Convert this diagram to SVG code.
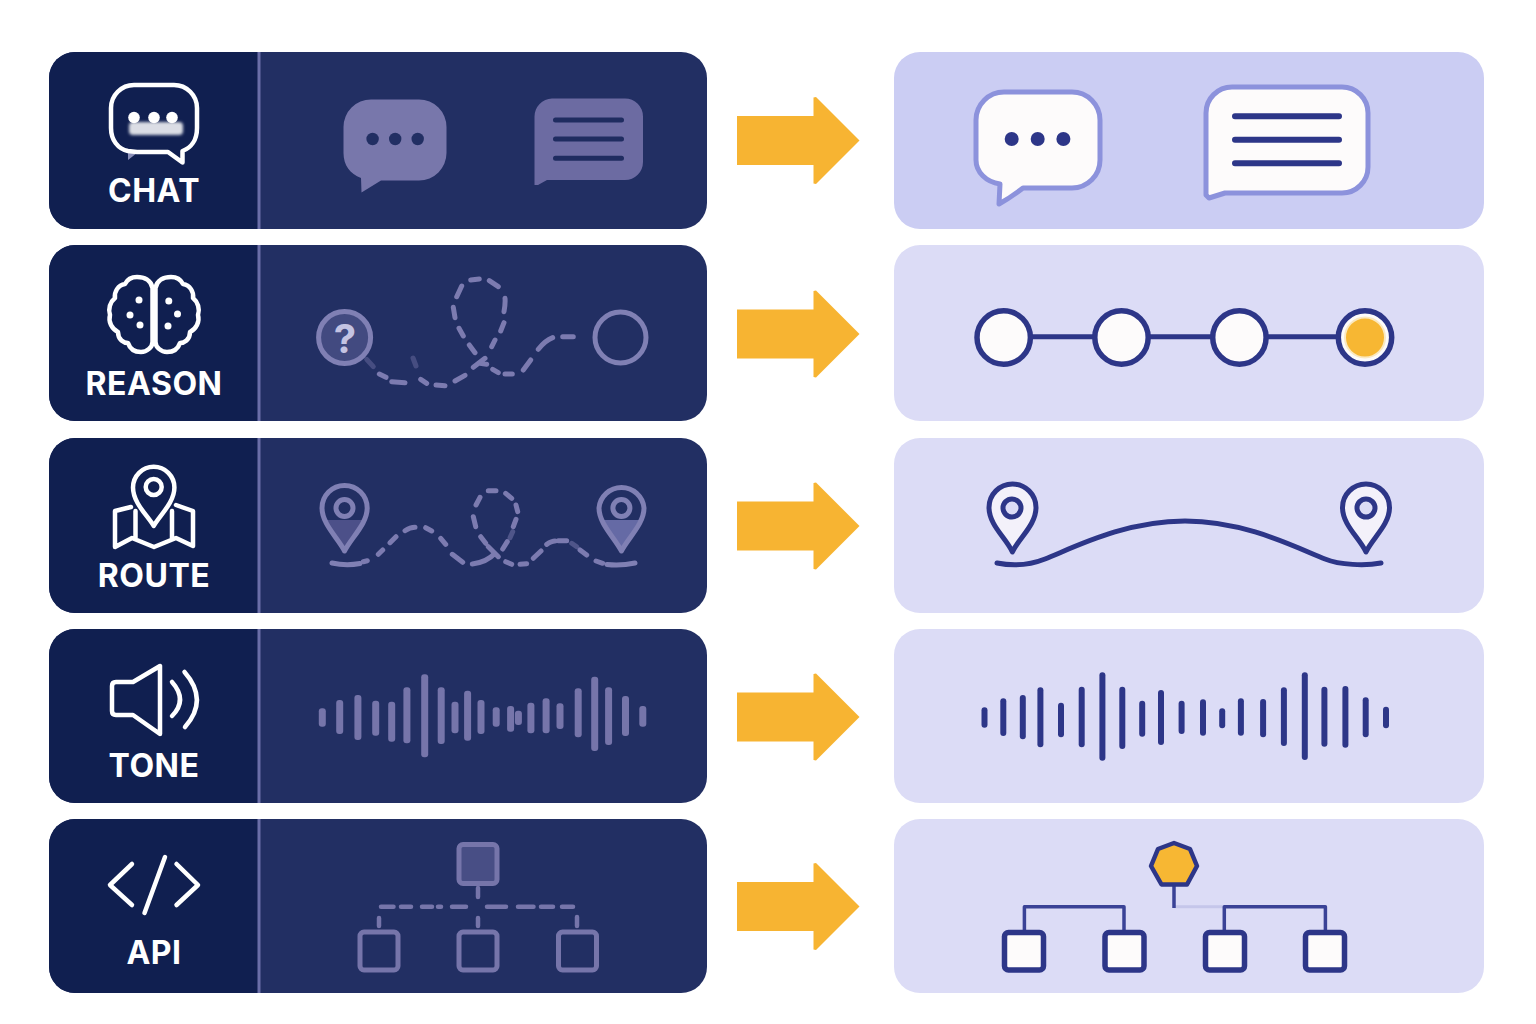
<svg xmlns="http://www.w3.org/2000/svg" width="1536" height="1024" viewBox="0 0 1536 1024">
<style>
.card{fill:#222f63}
.head{fill:#101f50}
.div{fill:#6a6ea8}
.pl1{fill:#cbcdf3}
.pl2{fill:#dcdcf6}
.label{font-family:"Inter","Liberation Sans",sans-serif;font-weight:700;font-size:32px;letter-spacing:.5px;fill:#fff;text-anchor:middle}
.wi{fill:none;stroke:#fff;stroke-width:4.5;stroke-linecap:round;stroke-linejoin:round}
.wd{fill:#fff}
.m{fill:none;stroke:#8080b4;stroke-width:5;stroke-linecap:round;stroke-linejoin:round}
.md{fill:none;stroke:#7c7bb0;stroke-width:5;stroke-linecap:round}
.mb rect{fill:#7675aa}
.n{fill:none;stroke:#2d3688;stroke-width:5;stroke-linecap:round;stroke-linejoin:round}
.nw{fill:#fdfbfb;stroke:#2d3688;stroke-width:5.5;stroke-linejoin:round}
.nb rect{fill:#2d3688}
.arrow{fill:#f7b432}
</style>
<defs>
<path id="arr" d="M737 -24.500H813.500V-43L816 -43.500L859.500 0L816 43.500L813.500 43V24.500H737Z"/>
</defs>
<rect width="1536" height="1024" fill="#fff"/>

<g id="connectors">
<use href="#arr" class="arrow" y="140.500"/>
<use href="#arr" class="arrow" y="334"/>
<use href="#arr" class="arrow" y="526"/>
<use href="#arr" class="arrow" y="717"/>
<use href="#arr" class="arrow" y="906.500"/>
</g>

<g id="chat-source">
<rect class="card" x="49" y="52" width="658" height="177" rx="26"/>
<path class="head" d="M258 52H75A26 26 0 0 0 49 78V203A26 26 0 0 0 75 229H258Z"/>
<rect class="div" x="257.500" y="52" width="3" height="177"/>
<path d="M128 150L137 153L128 160Z" fill="#8b8fb8"/>
<path class="wi" d="M134 85H174A23 23 0 0 1 197 108V128C197 140 191 148 182.500 151V162.500L168 152H137L128 151C118 149 111 140 111 128V108A23 23 0 0 1 134 85Z"/>
<rect x="129" y="122" width="54" height="13" rx="4" fill="#fff" opacity=".85" style="filter:blur(1.500px)"/>
<circle class="wd" cx="134" cy="117.500" r="5.800"/><circle class="wd" cx="154" cy="117.500" r="5.800"/><circle class="wd" cx="172" cy="117.500" r="5.800"/>
<text class="label" x="154" y="202">CHAT</text>
<path fill="#7877ab" d="M371 99.500H419A27.500 27.500 0 0 1 446.500 127V153A27.500 27.500 0 0 1 419 180.500H381L361.500 192.500L361 178C350 174 343.500 165 343.500 153V127A27.500 27.500 0 0 1 371 99.500Z"/>
<g fill="#222f63"><circle cx="372.600" cy="139" r="6.200"/><circle cx="395.200" cy="139" r="6.200"/><circle cx="417.700" cy="139" r="6.200"/></g>
<path fill="#6c6ba2" d="M552 98.500H625A18 18 0 0 1 643 116.500V162A18 18 0 0 1 625 180H547L538 185H534.500V116.500A18 18 0 0 1 552 98.500Z"/>
<path d="M555.500 120H621.500M555.500 139H621.500M555.500 158.300H621.500" fill="none" stroke="#1f2c60" stroke-width="5" stroke-linecap="round"/>
</g>

<g id="reason-source">
<rect class="card" x="49" y="245" width="658" height="176" rx="26"/>
<path class="head" d="M258 245H75A26 26 0 0 0 49 271V395A26 26 0 0 0 75 421H258Z"/>
<rect class="div" x="257.500" y="245" width="3" height="176"/>
<path class="wi" d="M152.500 288C151 280 144 277 137 277C131 277 127 280 125 284C118 285 114 292 115 298C110 302 108 309 110 315C108 322 112 329 118 332C118 340 124 343 128 343C130 349 135 352 141 352C147 352 152.500 347 152.500 342Z"/>
<path class="wi" d="M155.500 288C157 280 164 277 171 277C177 277 181 280 183 284C190 285 194 292 193 298C198 302 200 309 198 315C200 322 196 329 190 332C190 340 184 343 180 343C178 349 173 352 167 352C161 352 155.500 347 155.500 342Z"/>
<g class="wd"><circle cx="139" cy="300" r="3.500"/><circle cx="130" cy="315" r="3.500"/><circle cx="140" cy="325" r="3.500"/><circle cx="168.800" cy="301" r="3.500"/><circle cx="177.500" cy="314" r="3.500"/><circle cx="168" cy="326" r="3.500"/></g>
<text class="label" x="154" y="395">REASON</text>
<circle cx="344.600" cy="337.500" r="26" fill="#424a80" stroke="#8080b4" stroke-width="5"/>
<text x="345" y="353" font-family="Inter,'Liberation Sans',sans-serif" font-size="40" font-weight="700" fill="#c4c3e2" text-anchor="middle">?</text>
<path class="md" d="M379.300 374L386 377.300M391.700 381.700L405 382.700M420.700 379.300L426.700 383.300M436 385L445 385.700M455 381L465 375.300M473.300 367.300L485 358.300M480 363.300L486.700 364.300M492.700 369.300L498.300 372.700M505 374L512.300 374M523.300 370L530.700 360M538.300 349.300Q545 340.700 552.700 337.700M562.700 336.700L573.300 336.700M500.700 331L504 322.700M504 311.700Q505.500 303 505 298.300M498.300 286.700L489.300 280.700M479.300 279L470.700 280M461.700 286L456.700 296.700M453.300 307.300L455 317.700M459 328.300L463.300 336M469.300 345L475 352.700M491.700 346.700L495 340"/>
<path class="md" opacity=".4" d="M366.700 359.300L373.300 366.700M413 358L416 366"/>
<circle class="m" cx="620.500" cy="337.500" r="25.500"/>
</g>

<g id="route-source">
<rect class="card" x="49" y="438" width="658" height="175" rx="26"/>
<path class="head" d="M258 438H75A26 26 0 0 0 49 464V587A26 26 0 0 0 75 613H258Z"/>
<rect class="div" x="257.500" y="438" width="3" height="175"/>
<path class="wi" d="M131 507L115 511V547L132 538L154 547L176 538L193 546V511L176 505M135.500 511V538M172 511V538"/>
<path class="wi" d="M153.700 526C148 516 133 503 133 487.500A20.700 20.700 0 0 1 174.400 487.500C174.400 503 159 516 153.700 526Z" style="fill:#101f50"/>
<circle class="wi" cx="153.700" cy="487" r="8"/>
<text class="label" x="154" y="587">ROUTE</text>
<path fill="#4c5089" d="M326.500 520H362.500L344.600 551Z"/>
<path class="m" d="M344.600 551C338 538 322 524 322 508A22.600 22.600 0 0 1 367.200 508C367.200 524 351 538 344.600 551Z"/>
<circle class="m" cx="344.500" cy="508" r="8.500"/>
<path fill="#656aa5" d="M603.500 520H639.500L621.400 551Z"/>
<path class="m" d="M621.400 551C615 538 599 524 599 508A22.600 22.600 0 0 1 644 508C644 524 628 538 621.400 551Z"/>
<circle class="m" cx="621.400" cy="508" r="8.500"/>
<path class="m" d="M332 563Q346 566 360 563.500M607 564.500Q621 566 635 563"/>
<path class="md" d="M363.300 561.700L367.300 560.700M378.300 554.300L382.700 550M390 542.700L396 536.700M405 530.700Q410 527.300 415 527.300M425.700 527.700L431.700 531M440.700 538.300L445.700 544.300M452.300 554.300L462.700 562.300M472.300 564Q486.700 562.300 495 553.300M488.300 546.700L498.300 556.700M480.700 536.700L485.700 543.300M473.300 516.700L475.700 526.700M476 505L480 497.300M488.300 490.700L496 490.700M505.700 493.300L511.700 498.300M516 505L517.700 511.700M516 519.300L513.300 526.700M507.300 541.700L502.700 549M505.700 561.700L511.700 564.300M520 564.300L526.700 563.700M533.300 558.300L541 551M546.700 544.300Q551.700 541 555 541M558.300 540.700L566.700 540.700M580 550L586.700 555M596 561L602.700 563.300"/>
<path class="md" opacity=".5" d="M512.700 531.700L510 537.700M571.700 543.300L576.700 546.700"/>
</g>

<g id="tone-source">
<rect class="card" x="49" y="629" width="658" height="174" rx="26"/>
<path class="head" d="M258 629H75A26 26 0 0 0 49 655V777A26 26 0 0 0 75 803H258Z"/>
<rect class="div" x="257.500" y="629" width="3" height="174"/>
<path class="wi" d="M116 682H133L160 666V734L133 715H116Q112 715 112 711V686Q112 682 116 682Z"/>
<path class="wi" d="M172 682Q188 700 172 716M184.500 672Q209 700 185 727"/>
<text class="label" x="154" y="777">TONE</text>
<g class="mb">
<rect x="318.800" y="708.300" width="7" height="18.400" rx="3"/>
<rect x="336.200" y="700" width="7" height="34" rx="3"/>
<rect x="354.400" y="695" width="7" height="45" rx="3"/>
<rect x="372.200" y="700.700" width="7" height="35" rx="3"/>
<rect x="388.200" y="701.700" width="7" height="40" rx="3"/>
<rect x="403.400" y="687.300" width="7" height="56" rx="3"/>
<rect x="421.200" y="674.300" width="7" height="83" rx="3"/>
<rect x="437.700" y="687.300" width="7" height="56.700" rx="3"/>
<rect x="451.500" y="701.700" width="7" height="31.600" rx="3"/>
<rect x="464.100" y="690.700" width="7" height="50" rx="3"/>
<rect x="477.500" y="700" width="7" height="34" rx="3"/>
<rect x="492.700" y="707.300" width="7" height="19.400" rx="3"/>
<rect x="507.100" y="706" width="7" height="25.700" rx="3"/>
<rect x="514.900" y="710.700" width="7" height="14.300" rx="3"/>
<rect x="527.400" y="702.700" width="7" height="30.600" rx="3"/>
<rect x="542.600" y="698.300" width="7" height="35" rx="3"/>
<rect x="556.500" y="703.300" width="7" height="25.700" rx="3"/>
<rect x="574.700" y="688.300" width="7" height="49" rx="3"/>
<rect x="591.200" y="676.700" width="7" height="74.300" rx="3"/>
<rect x="605.100" y="687.300" width="7" height="57.700" rx="3"/>
<rect x="622" y="696" width="7" height="40" rx="3"/>
<rect x="639.300" y="706" width="7" height="20.700" rx="3"/>
</g>
</g>

<g id="api-source">
<rect class="card" x="49" y="819" width="658" height="174" rx="26"/>
<path class="head" d="M258 819H75A26 26 0 0 0 49 845V967A26 26 0 0 0 75 993H258Z"/>
<rect class="div" x="257.500" y="819" width="3" height="174"/>
<path class="wi" d="M132 864L110 885L132 905M176.500 864L198 885L176.500 905M165 857L144.500 913"/>
<text class="label" x="154" y="964">API</text>
<rect class="m" x="459" y="844.500" width="38" height="39" rx="4" style="fill:#484e85;stroke:#7675aa"/>
<rect class="m" x="360" y="932" width="38" height="38" rx="4" style="stroke:#7675aa"/>
<rect class="m" x="459" y="932" width="38" height="38" rx="4" style="stroke:#7675aa"/>
<rect class="m" x="558.500" y="932" width="38" height="38" rx="4" style="stroke:#7675aa"/>
<path d="M478 888V897M381 906.700H393.500M401 906.700H411M422 906.700H432M438 906.700H441M452 906.700H466M487 906.700H506M518 906.700H533.500M541 906.700H553M562 906.700H573M379 918V926M478 918V926M577 917V926" fill="none" stroke="#7675aa" stroke-width="4.500" stroke-linecap="round"/>
</g>

<g id="chat-target">
<rect class="pl1" x="894" y="52" width="590" height="177" rx="26"/>
<path d="M1004 92H1072A28 28 0 0 1 1100 120V160A28 28 0 0 1 1072 188H1023Q1010 198 999 204L1000 184C986 182 976 172 976 160V120A28 28 0 0 1 1004 92Z" fill="#fdfbfb" stroke="#8c92dc" stroke-width="5" stroke-linejoin="round"/>
<g fill="#2d3688"><circle cx="1011.700" cy="139" r="7"/><circle cx="1037.700" cy="139" r="7"/><circle cx="1063.400" cy="139" r="7"/></g>
<path d="M1232 87H1342A26 26 0 0 1 1368 113V167A26 26 0 0 1 1342 193H1225L1209 198L1206 195V113A26 26 0 0 1 1232 87Z" fill="#fdfbfb" stroke="#8c92dc" stroke-width="5" stroke-linejoin="round"/>
<path class="n" d="M1235 116.300H1339M1235 139.700H1339M1235 163.300H1339" style="stroke-width:6"/>
</g>

<g id="reason-target">
<rect class="pl2" x="894" y="245" width="590" height="176" rx="26"/>
<path class="n" d="M1030 336.700H1340"/>
<circle class="nw" cx="1003.700" cy="337.500" r="26.700"/>
<circle class="nw" cx="1121.500" cy="337.500" r="26.700"/>
<circle class="nw" cx="1239.400" cy="337.500" r="26.700"/>
<circle class="nw" cx="1365" cy="337.500" r="26.700"/>
<circle cx="1365" cy="337.500" r="20" fill="#f7b733" stroke="#fbe9c0" stroke-width="2"/>
</g>

<g id="route-target">
<rect class="pl2" x="894" y="438" width="590" height="175" rx="26"/>
<path class="n" d="M997 563C1012 566 1030 565 1045 559C1075 547 1125 521 1185 521C1245 521 1295 547 1325 559C1340 565 1365 566 1381 563"/>
<path d="M1012.400 552C1006 538 989 525 989 507.500A23.500 23.500 0 0 1 1036 507.500C1036 525 1019 538 1012.400 552Z" fill="#f3f1fa" stroke="#2d3688" stroke-width="5" stroke-linejoin="round"/>
<circle class="n" cx="1012" cy="508" r="9" style="fill:#dcdcf6"/>
<path d="M1366 552C1359.600 538 1342.500 525 1342.500 507.500A23.500 23.500 0 0 1 1389.500 507.500C1389.500 525 1372.500 538 1366 552Z" fill="#f3f1fa" stroke="#2d3688" stroke-width="5" stroke-linejoin="round"/>
<circle class="n" cx="1366" cy="508" r="9" style="fill:#dcdcf6"/>
</g>

<g id="tone-target">
<rect class="pl2" x="894" y="629" width="590" height="174" rx="26"/>
<g class="nb">
<rect x="981.500" y="707.300" width="6" height="20.400" rx="3"/>
<rect x="1000.300" y="698.300" width="6" height="37.700" rx="3"/>
<rect x="1019.800" y="695" width="6" height="44.300" rx="3"/>
<rect x="1037.400" y="687.300" width="6" height="60" rx="3"/>
<rect x="1058" y="702.700" width="6" height="34.600" rx="3"/>
<rect x="1078.700" y="686.700" width="6" height="60.600" rx="3"/>
<rect x="1099.400" y="672.300" width="6" height="88.400" rx="3"/>
<rect x="1119.300" y="686.700" width="6" height="62.300" rx="3"/>
<rect x="1139.200" y="700.700" width="6" height="36" rx="3"/>
<rect x="1158" y="690" width="6" height="55" rx="3"/>
<rect x="1178.600" y="700.700" width="6" height="33.300" rx="3"/>
<rect x="1200" y="699.300" width="6" height="36.400" rx="3"/>
<rect x="1219.200" y="708.300" width="6" height="20" rx="3"/>
<rect x="1237.900" y="698.300" width="6" height="37.400" rx="3"/>
<rect x="1260.100" y="699" width="6" height="38.300" rx="3"/>
<rect x="1280.900" y="687.300" width="6" height="58.700" rx="3"/>
<rect x="1301.800" y="672.300" width="6" height="87.700" rx="3"/>
<rect x="1321.400" y="686.700" width="6" height="60" rx="3"/>
<rect x="1342.400" y="686" width="6" height="61.700" rx="3"/>
<rect x="1362.700" y="697.300" width="6" height="40" rx="3"/>
<rect x="1383" y="706.700" width="6" height="21.600" rx="3"/>
</g>
</g>

<g id="api-target">
<rect class="pl2" x="894" y="819" width="590" height="174" rx="26"/>
<path d="M1174 906.700H1226" fill="none" stroke="#c5c6ea" stroke-width="3"/>
<path d="M1174 886V908M1024.400 930V906.700H1124V930M1224.300 930V906.700H1325.400V930" fill="none" stroke="#3a4296" stroke-width="3.500" stroke-linejoin="round"/>
<path d="M1174 843L1190 849L1197 866L1187 884.500H1161.500L1151 866L1158 849Z" fill="#f7b733" stroke="#2d3688" stroke-width="4.500" stroke-linejoin="round"/>
<rect class="nw" x="1004.500" y="932.500" width="39" height="37.500" rx="4"/>
<rect class="nw" x="1105" y="932.500" width="39" height="37.500" rx="4"/>
<rect class="nw" x="1205.500" y="932.500" width="39" height="37.500" rx="4"/>
<rect class="nw" x="1305.500" y="932.500" width="39" height="37.500" rx="4"/>
</g>
</svg>
